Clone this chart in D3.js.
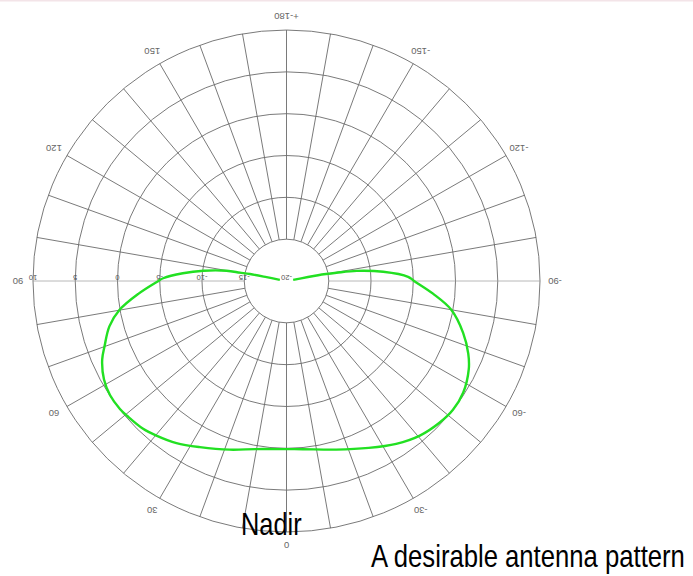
<!DOCTYPE html>
<html>
<head>
<meta charset="utf-8">
<script src="https://cdn.jsdelivr.net/npm/d3@7"></script>
<style>
  body { margin: 0; background: #fff; }
  svg { display: block; }
</style>
</head>
<body>
<script>
const width = 693,
  height = 576;

// radial axis (dB) and angle axis
const ringDb = [-15, -10, -5, 0, 5, 10];
const radialLabelDb = [10, 5, 0, -5, -10, -15, -20];
const spokeAngles = [0, 10, 20, 30, 40, 50, 60, 70, 80, 90, 100, 110, 120, 130, 140, 150, 160, 170,
  180, -170, -160, -150, -140, -130, -120, -110, -100, -90, -80, -70, -60, -50, -40, -30, -20, -10];
const angleLabelValues = [0, 30, 60, 90, 120, 150, 180, -150, -120, -90, -60, -30];
const angleLabelText = ['0', '30', '60', '90', '120', '150', '+-180', '-150', '-120', '-90', '-60', '-30'];

// antenna pattern: angle from nadir (deg), gain (dB)
const patternAngle = [-99, -100.5, -99.4, -98.3, -95.5, -92, -90, -85, -80, -73.5, -68, -64, -57.5, -52,
  -47, -40.5, -33.7, -26, -16.3, -5.5, 0, 10, 18.4, 27.3, 33.9, 39.8, 44, 49.4, 52.2, 56.8, 61.4, 66.7,
  70.1, 75.5, 80.1, 85, 89.7, 91.3, 94.3, 97.1, 99.8, 100.3, 100.9, 101, 100];
const patternGain = [-19.2, -16.2, -14.0, -11.6, -8.5, -5.6, -4.9, -2.6, -0.2, 1.8, 3.2, 4.0, 4.8, 5.0,
  4.8, 4.3, 3.4, 2.2, 1.0, 0.2, 0.1, 0.4, 1.25, 2.35, 3.35, 4.05, 4.5, 4.8, 4.95, 4.95, 4.6, 3.75,
  2.9, 1.65, 0.05, -2.4, -4.7, -5.4, -7.7, -10.1, -12.8, -14.4, -15.6, -17.6, -19.2];

const cx = 286.5,
  cy = 281;

const r = d3.scaleLinear()
  .domain([-20, 10])
  .range([0, 253.5]);

// nadir at the bottom, positive angles toward the left
const ang = d => Math.PI + d * Math.PI / 180;
const px = (d, rad) => rad * Math.sin(ang(d));
const py = (d, rad) => -rad * Math.cos(ang(d));

const svg = d3.select('body').append('svg')
  .attr('width', width)
  .attr('height', height);

svg.append('rect')
  .attr('width', width)
  .attr('height', 1.5)
  .attr('fill', '#f3e4e8');

const g = svg.append('g')
  .attr('transform', `translate(${cx},${cy}) scale(1,0.99)`);

g.append('g')
  .selectAll('circle')
  .data(ringDb)
  .enter().append('circle')
  .attr('r', d => r(d))
  .attr('fill', 'none')
  .attr('stroke', '#6a6a6a')
  .attr('stroke-width', 0.9);

g.append('g')
  .selectAll('line')
  .data(spokeAngles)
  .enter().append('line')
  .attr('x1', d => px(d, r(-15)))
  .attr('y1', d => py(d, r(-15)))
  .attr('x2', d => px(d, r(10)))
  .attr('y2', d => py(d, r(10)))
  .attr('stroke', d => Math.abs(d) === 90 ? '#9a9a9a' : '#6a6a6a')
  .attr('stroke-width', d => Math.abs(d) === 90 ? 0.7 : 0.9);

// upside-down labels, as in the source plot
g.append('g')
  .selectAll('text')
  .data(radialLabelDb)
  .enter().append('text')
  .attr('x', d => -r(d))
  .attr('y', -4)
  .attr('transform', d => `rotate(180,${-r(d)},-4)`)
  .attr('text-anchor', 'middle')
  .attr('dominant-baseline', 'central')
  .attr('font-family', 'Liberation Sans, Arial, sans-serif')
  .attr('font-size', 7.5)
  .attr('fill', '#555')
  .text(d => d);

g.append('g')
  .selectAll('text')
  .data(angleLabelValues)
  .enter().append('text')
  .attr('x', d => px(d, r(10) + 15))
  .attr('y', d => py(d, r(10) + 14))
  .attr('transform', d => `rotate(180,${px(d, r(10) + 15)},${py(d, r(10) + 14)})`)
  .attr('text-anchor', 'middle')
  .attr('dominant-baseline', 'central')
  .attr('font-family', 'Liberation Sans, Arial, sans-serif')
  .attr('font-size', 9.5)
  .attr('fill', '#666')
  .text((d, i) => angleLabelText[i]);

const line = d3.lineRadial()
  .angle(d => ang(d[0]))
  .radius(d => r(d[1]))
  .curve(d3.curveCatmullRom.alpha(0.5));

g.append('path')
  .datum(patternAngle.map((a, i) => [a, patternGain[i]]))
  .attr('d', line)
  .attr('fill', 'none')
  .attr('stroke', '#22e022')
  .attr('stroke-width', 2.4)
  .attr('stroke-linejoin', 'round');

// the original captions use a condensed face; squeeze Liberation Sans horizontally
svg.append('text')
  .attr('transform', 'translate(241,535) scale(0.82,1)')
  .attr('font-family', 'Liberation Sans, Arial, sans-serif')
  .attr('font-size', 31)
  .attr('fill', '#000')
  .text('Nadir');

svg.append('text')
  .attr('transform', 'translate(371,567) scale(0.815,1)')
  .attr('font-family', 'Liberation Sans, Arial, sans-serif')
  .attr('font-size', 31.5)
  .attr('fill', '#000')
  .text('A desirable antenna pattern');
</script>
</body>
</html>
